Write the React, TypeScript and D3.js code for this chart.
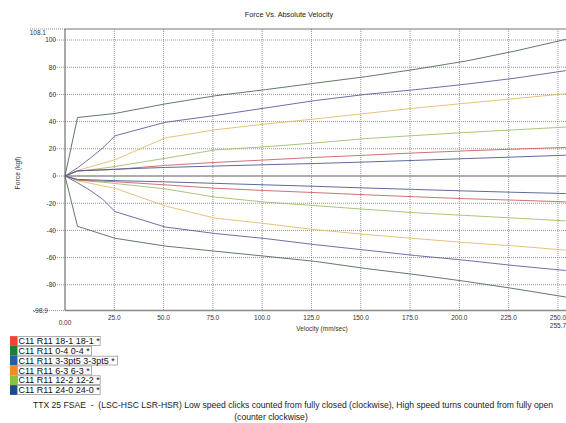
import React from "react";
import * as d3 from "d3";

const W = 566;
const H = 423;

const title = "Force Vs. Absolute Velocity";
const xAxisTitle = "Velocity (mm/sec)";
const yAxisTitle = "Force (kgf)";
const footer1 = "TTX 25 FSAE  -  (LSC-HSC LSR-HSR) Low speed clicks counted from fully closed (clockwise), High speed turns counted from fully open";
const footer2 = "(counter clockwise)";

const xMin = 0;
const xMax = 255.7;
const yMin = -98.9;
const yMax = 108.1;
const xTicks = [25, 50, 75, 100, 125, 150, 175, 200, 225, 250];
const yTicks = [100, 80, 60, 40, 20, 0, -20, -40, -60, -80];

const velocities = [0, 6.35, 12.7, 19.05, 25.4, 50.8, 76.2, 101.6, 127, 152.4, 177.8, 203.2, 228.6, 254];

const comp04 = [0, 43, 44, 45, 46, 53, 59, 63.5, 68.3, 73, 78.5, 84.5, 92, 100.5];
const reb04 = [0, -37, -39.9, -42.9, -45.8, -51.5, -55.3, -59, -62.8, -68, -72.5, -77.5, -83, -89];
const comp33 = [0, 6, 13, 20.5, 29.6, 39.5, 44.5, 50, 55.5, 60, 63.5, 67.5, 72, 77.5];
const reb33 = [0, -5, -10.5, -17, -26.2, -37.5, -42.3, -46, -50.5, -54.5, -58.5, -62, -66, -69.5];
const comp63 = [0, 4, 6.7, 9.3, 12, 28, 34, 38.2, 42, 46, 50, 53.5, 57, 60.5];
const reb63 = [0, -3.5, -5.3, -7.2, -9, -22, -31, -35, -39.5, -43, -46, -49, -51.5, -54.5];
const comp122 = [0, 3.5, 4.5, 5.7, 7, 13, 19.2, 21.5, 24.3, 27.5, 29.8, 32, 34, 36];
const reb122 = [0, -3, -3.8, -4.6, -5.5, -9.5, -15.5, -19.2, -21.8, -24.5, -27, -29, -31, -33];
const comp181 = [0, 3.8, 4.1, 4.4, 4.8, 7.8, 10, 11.8, 13.7, 15.3, 17, 18.5, 19.8, 21];
const reb181 = [0, -3, -3.4, -3.8, -4.2, -6.5, -9, -10.7, -12.2, -13.8, -15.3, -16.7, -17.8, -19];
const comp240 = [0, 3.8, 4.2, 4.6, 5, 6.3, 7.3, 8.3, 9.2, 10.3, 11.5, 12.8, 14, 15.3];
const reb240 = [0, -2.5, -2.8, -3.1, -3.4, -4.3, -5.4, -6.5, -7.6, -8.8, -9.9, -11, -12, -12.9];
const zeroLine = [0, 0, 0, 0, 0, 0, 0, 0, 0, 0, 0, 0, 0, 0];

const legendLabels = [
  "C11 R11 18-1 18-1 *",
  "C11 R11 0-4 0-4 *",
  "C11 R11 3-3pt5 3-3pt5 *",
  "C11 R11 6-3 6-3 *",
  "C11 R11 12-2 12-2 *",
  "C11 R11 24-0 24-0 *",
];
const legendColors = ["#ee4433", "#1a7f3c", "#1f5fae", "#f38a2a", "#86c044", "#1c4b92"];

const plotSeries = [
  { comp: comp04, reb: reb04, color: "#4f6b57" },
  { comp: comp33, reb: reb33, color: "#5d5f9c" },
  { comp: comp63, reb: reb63, color: "#e3bb6c" },
  { comp: comp122, reb: reb122, color: "#9cc06c" },
  { comp: comp181, reb: reb181, color: "#c96262" },
  { comp: comp240, reb: reb240, color: "#4b5a8c" },
];

export default function App() {
  const x = d3.scaleLinear().domain([xMin, xMax]).range([65, 569.2]);
  const y = d3.scaleLinear().domain([yMin, yMax]).range([310.5, 29]);
  const line = d3
    .line<number>()
    .x((_, i) => x(velocities[i]))
    .y((d) => y(d));

  const font = "'Liberation Sans', Arial, sans-serif";
  const gridColor = "#8a8a8a";

  return (
    <svg
      width={W}
      height={H}
      style={{ position: "absolute", left: 0, top: 0, background: "#fff" }}
      fontFamily={font}
    >
      <rect x={0} y={0} width={W} height={H} fill="#fff" />
      <text x={289} y={17} textAnchor="middle" fontSize={7.3} fill="#222">
        {title}
      </text>

      {/* horizontal grid */}
      {yTicks.map((t) => (
        <line
          key={"h" + t}
          x1={53}
          x2={W}
          y1={y(t)}
          y2={y(t)}
          stroke={gridColor}
          strokeWidth={0.9}
          strokeDasharray="1,1"
        />
      ))}
      {/* vertical grid */}
      {xTicks.map((t) => (
        <line
          key={"v" + t}
          x1={x(t)}
          x2={x(t)}
          y1={y(yMax)}
          y2={y(yMin)}
          stroke={gridColor}
          strokeWidth={0.9}
          strokeDasharray="1,1"
        />
      ))}
      {/* top/bottom extent lines */}
      <line x1={30} x2={x(xMin)} y1={y(yMax)} y2={y(yMax)} stroke={gridColor} strokeWidth={0.9} strokeDasharray="1,1" />
      <line x1={x(xMin)} x2={W} y1={y(yMax)} y2={y(yMax)} stroke="#777" strokeWidth={1} />
      <line x1={33} x2={x(xMin)} y1={y(yMin)} y2={y(yMin)} stroke={gridColor} strokeWidth={0.9} strokeDasharray="1,1" />
      <line x1={x(xMin)} x2={W} y1={y(yMin)} y2={y(yMin)} stroke="#888" strokeWidth={1.6} />
      <line x1={x(xMin)} x2={x(xMin)} y1={y(yMax)} y2={y(yMin)} stroke="#555" strokeWidth={1} />

      {/* y tick labels */}
      {yTicks.map((t) => (
        <text key={"yl" + t} x={56} y={y(t) + 2.3} textAnchor="end" fontSize={6.5} fill="#333">
          {t}
        </text>
      ))}
      <text x={46} y={y(yMax) + 6} textAnchor="end" fontSize={6.5} fill="#333">
        {yMax}
      </text>
      <text x={48} y={y(yMin) + 2.3} textAnchor="end" fontSize={6.5} fill="#333">
        {yMin}
      </text>

      {/* x tick labels */}
      <text x={x(0)} y={325} textAnchor="middle" fontSize={6.5} fill="#333">
        {xMin.toFixed(2)}
      </text>
      {xTicks.map((t) => (
        <text key={"xl" + t} x={x(t)} y={320} textAnchor="middle" fontSize={6.5} fill="#333">
          {t.toFixed(1)}
        </text>
      ))}
      <text x={x(250)} y={327.5} textAnchor="middle" fontSize={6.5} fill="#333">
        {xMax}
      </text>

      <text x={322} y={331} textAnchor="middle" fontSize={6.5} fill="#333">
        {xAxisTitle}
      </text>
      <text
        transform={`translate(20,173) rotate(-90)`}
        textAnchor="middle"
        fontSize={6.8}
        fill="#333"
      >
        {yAxisTitle}
      </text>

      {/* series */}
      <path d={line(zeroLine) || ""} fill="none" stroke="#9a9a9a" strokeWidth={1.4} />
      {plotSeries.map((s, i) => (
        <g key={"s" + i}>
          <path d={line(s.comp) || ""} fill="none" stroke={s.color} strokeWidth={0.9} />
          <path d={line(s.reb) || ""} fill="none" stroke={s.color} strokeWidth={0.9} />
        </g>
      ))}

      {/* legend */}
      {legendLabels.map((lab, i) => {
        const cy = 341 + i * 9.8;
        const tw = lab.length * 4.35;
        return (
          <g key={"lg" + i}>
            <rect x={10} y={cy - 4.9} width={7} height={9.8} fill={legendColors[i]} />
            <rect x={17.5} y={cy - 4.4} width={tw} height={8.8} fill="none" stroke="#999" strokeWidth={0.8} />
            <text x={18.5} y={cy + 3.2} fontSize={9} fill="#111">
              {lab}
            </text>
          </g>
        );
      })}

      <text x={293} y={408} textAnchor="middle" fontSize={8.6} fill="#222" style={{ whiteSpace: "pre" }}>
        {footer1}
      </text>
      <text x={271} y={420} textAnchor="middle" fontSize={8.6} fill="#222">
        {footer2}
      </text>
    </svg>
  );
}
